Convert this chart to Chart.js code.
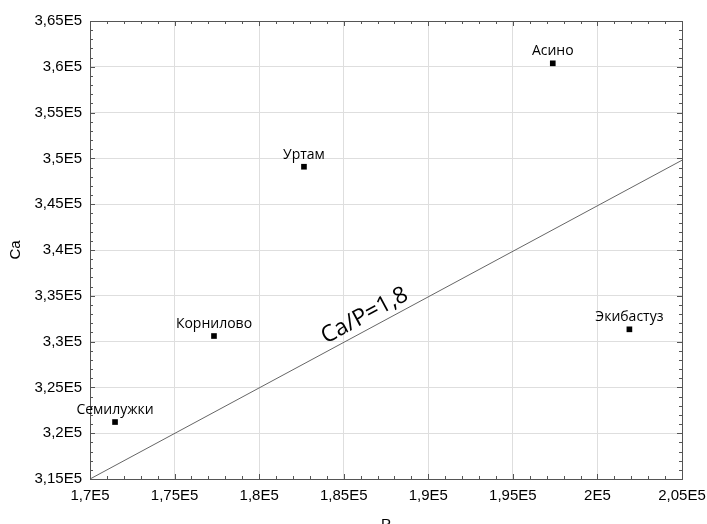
<!DOCTYPE html>
<html>
<head>
<meta charset="utf-8">
<script src="https://cdn.jsdelivr.net/npm/chart.js@4"></script>
<style>
  html, body { margin: 0; padding: 0; background: #fff; }
  #wrap { width: 707px; height: 524px; }
</style>
</head>
<body>
<div id="wrap"><canvas id="chart"></canvas></div>
<script>
// data
const names = ['Семилужки', 'Корнилово', 'Уртам', 'Асино', 'Экибастуз'];
const pValues = [171480, 177330, 182650, 197360, 201890];
const caValues = [321220, 330610, 349090, 360380, 331340];
const lineP = [170000, 205000];
const lineCa = [315000, 349800];
const lineLabel = 'Ca/P=1,8';

const axisColor = '#555';
const gridColor = '#dedede';

function fmtE5(v) {
    const n = Math.round(v / 1e5 * 1000) / 1000;
    return String(n).replace('.', ',') + 'E5';
}

// minor ticks + mirrored ticks on all four sides
const tickMarks = {
    id: 'tickMarks',
    afterDatasetsDraw(chart) {
        const { ctx, chartArea: a, scales: { x, y } } = chart;
        ctx.save();
        ctx.strokeStyle = axisColor;
        ctx.lineWidth = 1;
        ctx.beginPath();
        for (let v = 170000; v <= 205000; v += 1000) {
            const px = Math.round(x.getPixelForValue(v)) + 0.5;
            const len = v % 5000 === 0 ? 5 : 3;
            ctx.moveTo(px, a.bottom); ctx.lineTo(px, a.bottom - len);
            ctx.moveTo(px, a.top); ctx.lineTo(px, a.top + len);
        }
        for (let v = 315000; v <= 365000; v += 1000) {
            const py = Math.round(y.getPixelForValue(v)) + 0.5;
            const len = v % 5000 === 0 ? 5 : 3;
            ctx.moveTo(a.left, py); ctx.lineTo(a.left + len, py);
            ctx.moveTo(a.right, py); ctx.lineTo(a.right - len, py);
        }
        ctx.stroke();
        ctx.strokeRect(Math.round(a.left) + 0.5, Math.round(a.top) + 0.5,
            Math.round(a.right - a.left), Math.round(a.bottom - a.top));
        ctx.restore();
    }
};

// site names above the markers, and the ratio line label
const labels = {
    id: 'labels',
    afterDatasetsDraw(chart) {
        const { ctx, scales: { x, y } } = chart;
        ctx.save();
        ctx.fillStyle = '#000';
        ctx.font = '500 14px "Open Sans"';
        ctx.textAlign = 'center';
        ctx.textBaseline = 'bottom';
        names.forEach((n, i) => {
            ctx.fillText(n, x.getPixelForValue(pValues[i]), y.getPixelForValue(caValues[i]) - 5);
        });
        // ratio label, rotated along the line
        const x0 = x.getPixelForValue(lineP[0]), y0 = y.getPixelForValue(lineCa[0]);
        const x1 = x.getPixelForValue(lineP[1]), y1 = y.getPixelForValue(lineCa[1]);
        const t = 0.475;
        const ang = Math.atan2(y1 - y0, x1 - x0);
        ctx.translate(x0 + (x1 - x0) * t, y0 + (y1 - y0) * t);
        ctx.rotate(ang);
        ctx.font = '23px "Open Sans"';
        ctx.fillText(lineLabel, 0, -2);
        ctx.restore();
    }
};

new Chart(document.getElementById('chart'), {
    type: 'scatter',
    data: {
        datasets: [
            {
                data: pValues.map((p, i) => ({ x: p, y: caValues[i] })),
                pointStyle: 'rect',
                pointRadius: 4,
                backgroundColor: '#000',
                borderColor: '#000',
                borderWidth: 0
            },
            {
                data: lineP.map((p, i) => ({ x: p, y: lineCa[i] })),
                showLine: true,
                pointRadius: 0,
                borderColor: '#666',
                borderWidth: 1
            }
        ]
    },
    options: {
        responsive: true,
        maintainAspectRatio: false,
        animation: false,
        layout: { padding: { top: 21, right: 25, left: 0, bottom: 0 } },
        plugins: { legend: { display: false }, tooltip: { enabled: false } },
        scales: {
            x: {
                min: 170000, max: 205000,
                border: { display: false },
                grid: { color: gridColor, drawTicks: false },
                ticks: {
                    stepSize: 5000, color: '#000', padding: 8,
                    font: { family: 'Liberation Sans', size: 15 },
                    callback: v => fmtE5(v), maxRotation: 0
                },
                title: { display: true, text: 'P', color: '#000', padding: { top: 0, bottom: -10 },
                    font: { family: 'Liberation Sans', size: 15 } },
                afterFit: s => { s.height = 45; s.paddingLeft = 0; s.paddingRight = 0; }
            },
            y: {
                min: 315000, max: 365000,
                border: { display: false },
                grid: { color: gridColor, drawTicks: false },
                ticks: {
                    stepSize: 5000, color: '#000', padding: 8,
                    font: { family: 'Liberation Sans', size: 15 },
                    callback: v => fmtE5(v)
                },
                title: { display: true, text: 'Ca', color: '#000', padding: { top: 7, bottom: 0 },
                    font: { family: 'Liberation Sans', size: 15 } },
                afterFit: s => { s.width = 90; s.paddingTop = 0; s.paddingBottom = 0; }
            }
        }
    },
    plugins: [tickMarks, labels]
});
</script>
</body>
</html>
